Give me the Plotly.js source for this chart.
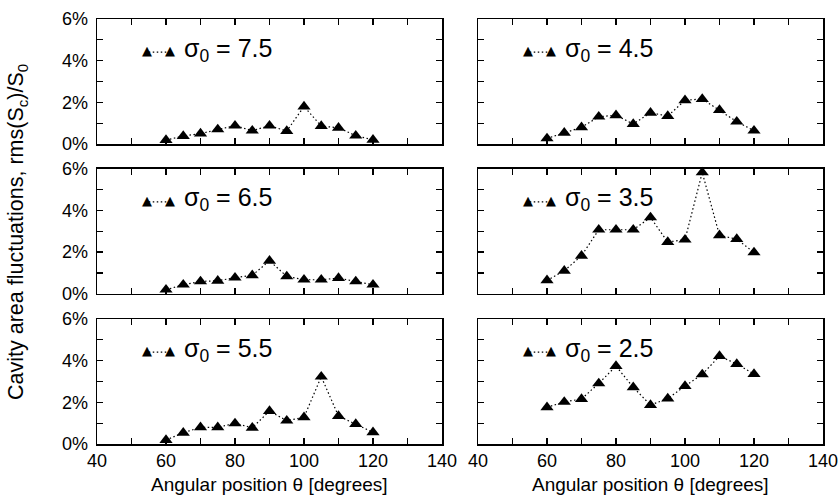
<!DOCTYPE html>
<html><head><meta charset="utf-8">
<script src="https://cdn.plot.ly/plotly-3.0.1.min.js"></script>
<style>body{margin:0;background:#fff}</style></head>
<body><div id="chart" style="width:840px;height:500px"></div>
<script>
// Angular positions (degrees)
const theta = [60,65,70,75,80,85,90,95,100,105,110,115,120];
// rms(Sc)/S0 in percent, one series per sigma_0
const sigma75 = [0.19,0.38,0.50,0.70,0.88,0.64,0.88,0.62,1.80,0.86,0.78,0.40,0.20];
const sigma45 = [0.27,0.54,0.80,1.31,1.38,0.96,1.50,1.34,2.10,2.16,1.63,1.07,0.64];
const sigma65 = [0.19,0.43,0.59,0.62,0.77,0.88,1.58,0.83,0.67,0.67,0.75,0.59,0.43];
const sigma35 = [0.64,1.10,1.82,3.07,3.07,3.07,3.66,2.48,2.59,5.82,2.80,2.62,1.98];
const sigma55 = [0.19,0.54,0.80,0.80,0.99,0.78,1.58,1.12,1.28,3.23,1.34,0.96,0.56];
const sigma25 = [1.76,2.02,2.16,2.91,3.74,2.72,1.87,2.18,2.78,3.34,4.22,3.84,3.36];
// panel order: row1 left,right; row2 left,right; row3 left,right
const seriesList = [sigma75, sigma45, sigma65, sigma35, sigma55, sigma25];
const sigmaLabels = ['7.5','4.5','6.5','3.5','5.5','2.5'];
const xTickVals = [40,60,80,100,120,140];
const yTickVals = [0,2,4,6];
const yTickText = ['0%','2%','4%','6%'];
const xTitle = 'Angular position θ [degrees]';
const yTitle = 'Cavity area fluctuations, rms(S<sub>c</sub>)/S<sub>0</sub>';

const FONT = 'Liberation Sans, Arial, Helvetica, sans-serif';
const W = 840, H = 500;
const ml = 97, mr = 17, mt = 19, mb = 56;
const pw = W - ml - mr, ph = H - mt - mb;
const colX = [[0, 345/pw], [(478-ml)/pw, 1]];
const rowTop = [19, 168.7, 319]; // px
const panelH = 125;
const DASH = '1.5px,2.5px';

const data = [];
const layout = {
  width: W, height: H,
  margin: {l: ml, r: mr, t: mt, b: mb},
  paper_bgcolor: '#fff', plot_bgcolor: '#fff',
  showlegend: false,
  font: {family: FONT, size: 18, color: '#000'},
  annotations: [], shapes: []
};

for (let i = 0; i < 6; i++) {
  const n = i + 1;
  const row = Math.floor(i / 2), col = i % 2;
  const xa = 'x' + (n === 1 ? '' : n), ya = 'y' + (n === 1 ? '' : n);
  const top = rowTop[row];
  const y1 = 1 - (top - mt) / ph, y0 = 1 - (top + panelH - mt) / ph;
  data.push({
    x: theta, y: seriesList[i], xaxis: xa, yaxis: ya,
    type: 'scatter', mode: 'lines+markers', cliponaxis: false,
    line: {color: '#000', width: 1.2, dash: DASH},
    marker: {symbol: 'triangle-up', size: 11.5, color: '#000'}
  });
  const common = {
    showline: true, linecolor: '#000', linewidth: 1.5, mirror: 'allticks',
    ticks: 'inside', ticklen: 6, tickwidth: 1.3, tickcolor: '#000',
    showgrid: false, zeroline: false, fixedrange: true,
    tickfont: {family: FONT, size: 18, color: '#000'}
  };
  layout['xaxis' + (n === 1 ? '' : n)] = Object.assign({}, common, {
    domain: colX[col], anchor: ya, range: [40, 140],
    tickmode: 'array', tickvals: xTickVals, ticktext: xTickVals.map(String),
    showticklabels: row === 2,
    minor: {dtick: 10, tick0: 40, ticks: 'inside', ticklen: 6, tickwidth: 1.3, tickcolor: '#000'}
  });
  layout['yaxis' + (n === 1 ? '' : n)] = Object.assign({}, common, {
    domain: [y0, y1], anchor: xa, range: [0, 6],
    tickmode: 'array', tickvals: yTickVals, ticktext: yTickText,
    showticklabels: col === 0, ticklabelstandoff: 4,
    minor: {dtick: 1, tick0: 0, ticks: 'inside', ticklen: 6, tickwidth: 1.3, tickcolor: '#000'}
  });
  // legend-like key inside each panel
  const xd = xa + ' domain', yd = ya + ' domain';
  const ky = 0.735;
  layout.shapes.push({type: 'line', xref: xd, yref: yd, x0: 0.15, x1: 0.207, y0: ky, y1: ky,
    line: {color: '#000', width: 1.2, dash: DASH}});
  [0.145, 0.212].forEach(function (kx) {
    layout.annotations.push({xref: xd, yref: yd, x: kx, y: ky + 0.01, text: '▲', showarrow: false,
      xanchor: 'center', yanchor: 'middle', font: {family: 'DejaVu Sans', size: 13, color: '#000'}});
  });
  layout.annotations.push({xref: xd, yref: yd, x: 0.245, y: ky + 0.02, xanchor: 'left', yanchor: 'middle',
    text: 'σ<sub>0</sub> = ' + sigmaLabels[i], showarrow: false,
    font: {family: FONT, size: 25, color: '#000'}});
}
// axis titles
layout.annotations.push({xref: 'paper', yref: 'paper', x: (17 - ml) / pw, y: (H - mb - 232) / ph,
  text: yTitle, textangle: -90, showarrow: false, xanchor: 'center', yanchor: 'middle',
  font: {family: FONT, size: 21.5, color: '#000'}});
[[97, 442], [478, 823]].forEach(function (r) {
  layout.annotations.push({xref: 'paper', yref: 'paper', x: ((r[0] + r[1]) / 2 - ml) / pw, y: -(484 - (H - mb)) / ph,
    text: xTitle, showarrow: false, xanchor: 'center', yanchor: 'middle',
    font: {family: FONT, size: 19, color: '#000'}});
});

Plotly.newPlot('chart', data, layout, {displayModeBar: false, staticPlot: true});
</script></body></html>
